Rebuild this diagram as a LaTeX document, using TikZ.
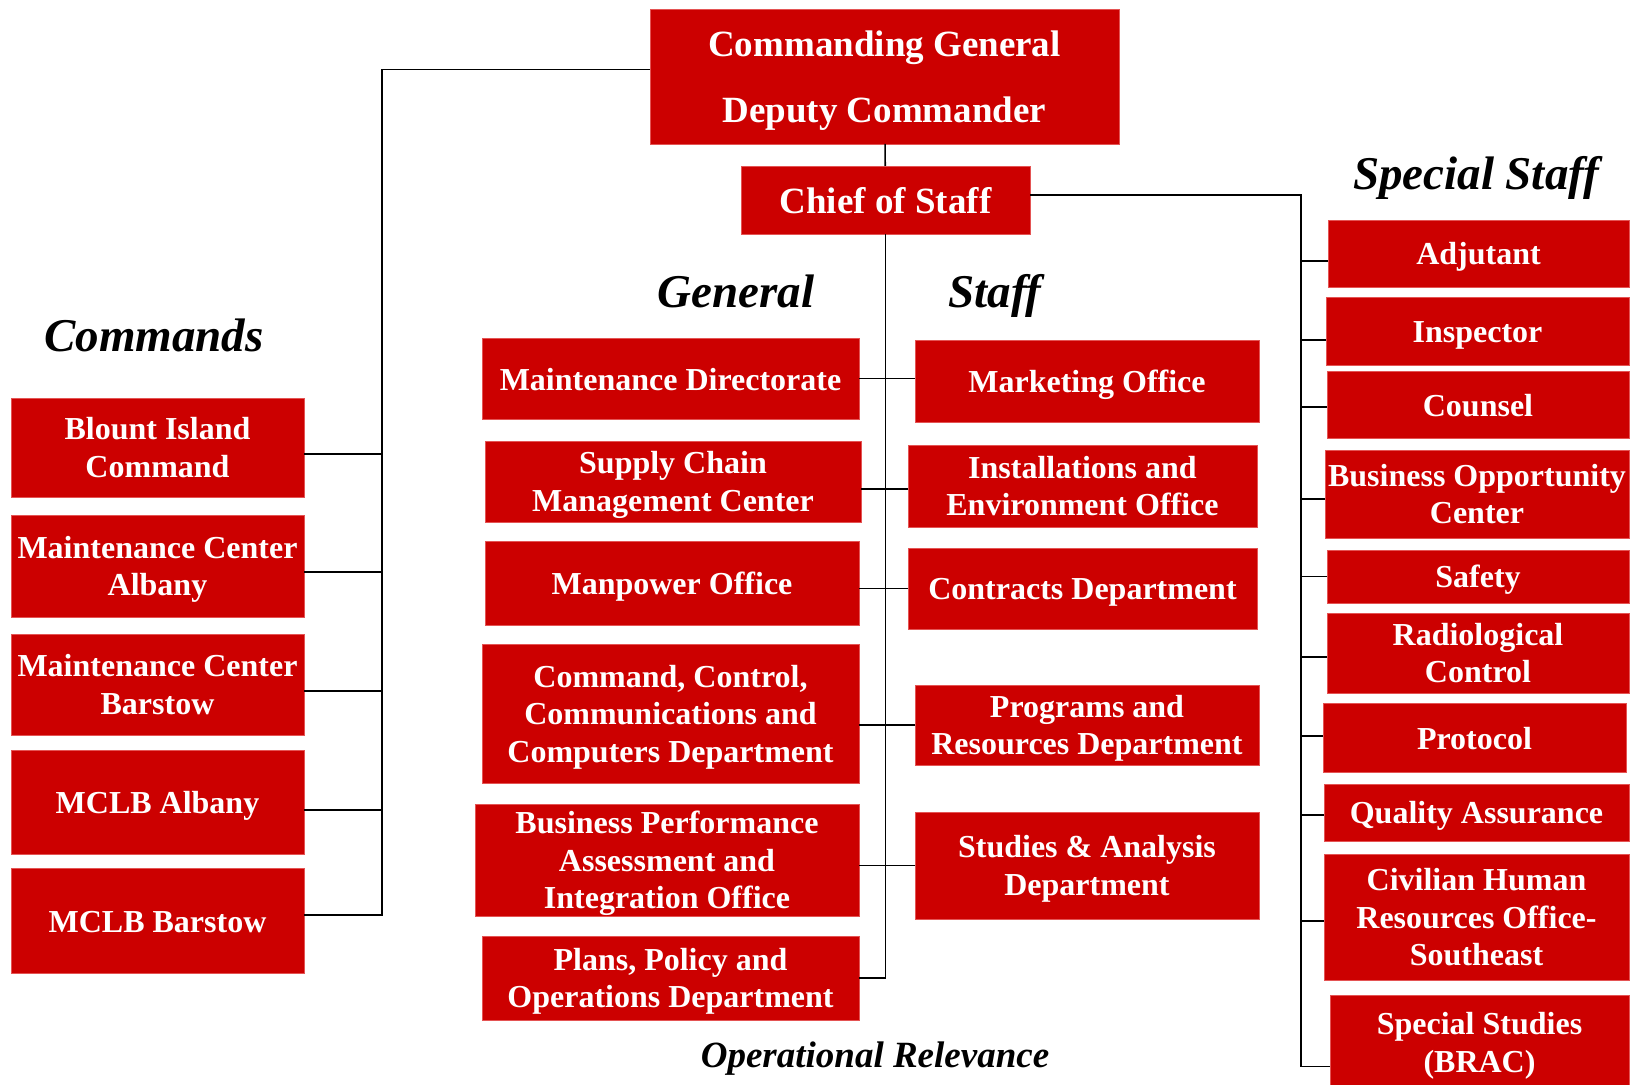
\documentclass[tikz,border=0pt]{standalone}
\usepackage{fontspec}
\setmainfont{Liberation Serif}
\usepackage{tikz}
\definecolor{UnitRed}{RGB}{204,0,0}
\definecolor{UnitEdge}{RGB}{228,84,84}

\begin{document}
\begin{tikzpicture}[x=0.5pt,y=-0.5pt]
  \tikzset{UnitStyle/.style = {
    shape         = rectangle,
    draw          = UnitEdge,
    fill          = UnitRed,
    line width    = 0.4pt,
    text          = white,
    align         = center,
    inner sep     = 0pt,
    outer sep     = 0pt,
    font          = \bfseries\fontsize{16}{18.75}\selectfont,
    execute at begin node = {\rule{0pt}{0.93em}},
    execute at end node   = {\rule[-0.2em]{0pt}{0pt}}
    }
  }
  \tikzset{MultiStyle/.style = {
    UnitStyle,
    text depth    = 0pt
    }
  }
  \tikzset{TopStyle/.style = {
    UnitStyle,
    font          = \bfseries\fontsize{18.5}{33}\selectfont
    }
  }
  \tikzset{LinkStyle/.style = {
    draw          = black,
    line width    = 0.8pt
    }
  }
  \tikzset{HeadStyle/.style = {
    anchor        = base,
    text          = black,
    inner sep     = 0pt,
    font          = \bfseries\itshape\fontsize{23.5}{28}\selectfont
    }
  }
  \useasboundingbox (0,0) rectangle (1634,1085);

	% top of the chain
	\node[TopStyle, text depth=0pt, minimum width=234.5pt, minimum height=67.5pt](cg) at (884.5, 76.5) {Commanding General\\Deputy Commander};
	\node[TopStyle, minimum width=144.5pt, minimum height=34pt](cos) at (885.5, 200) {Chief of Staff};

	% commands
	\node[MultiStyle, minimum width=146.5pt, minimum height=49.5pt](bic) at (157.5, 447.5) {Blount Island\\Command};
	\node[MultiStyle, minimum width=146.5pt, minimum height=51pt](mca) at (157.5, 566) {Maintenance Center\\Albany};
	\node[MultiStyle, minimum width=146.5pt, minimum height=50.5pt](mcb) at (157.5, 684.5) {Maintenance Center\\Barstow};
	\node[UnitStyle, minimum width=146.5pt, minimum height=52pt](mclba) at (157.5, 802) {MCLB Albany};
	\node[UnitStyle, minimum width=146.5pt, minimum height=52.5pt](mclbb) at (157.5, 920.5) {MCLB Barstow};

	% general staff
	\node[UnitStyle, minimum width=188.5pt, minimum height=40.5pt](md) at (670.5, 378.5) {Maintenance Directorate};
	\node[MultiStyle, minimum width=188pt, minimum height=40.5pt](scmc) at (673, 481.5) {Supply Chain\\Management Center};
	\node[UnitStyle, minimum width=187pt, minimum height=42pt](mpo) at (672, 583) {Manpower Office};
	\node[MultiStyle, minimum width=188.5pt, minimum height=69.5pt](cfour) at (670.5, 713.5) {Command, Control,\\Communications and\\Computers Department};
	\node[MultiStyle, minimum width=192pt, minimum height=56pt](bpa) at (667, 860) {Business Performance\\Assessment and\\Integration Office};
	\node[MultiStyle, minimum width=188.5pt, minimum height=42pt](ppo) at (670.5, 978) {Plans, Policy and\\Operations Department};
	\node[UnitStyle, minimum width=172pt, minimum height=41pt](mo) at (1087, 381) {Marketing Office};
	\node[MultiStyle, minimum width=174.5pt, minimum height=41pt](ieo) at (1082.5, 486) {Installations and\\Environment Office};
	\node[UnitStyle, minimum width=174.5pt, minimum height=40.5pt](cd) at (1082.5, 588.5) {Contracts Department};
	\node[MultiStyle, minimum width=172pt, minimum height=40pt](prd) at (1087, 725) {Programs and\\Resources Department};
	\node[MultiStyle, minimum width=172pt, minimum height=53.5pt](sad) at (1087, 865.5) {Studies \& Analysis\\Department};

	% special staff
	\node[UnitStyle, minimum width=150.5pt, minimum height=33.5pt](adj) at (1478.5, 253.5) {Adjutant};
	\node[UnitStyle, minimum width=151.5pt, minimum height=34pt](ins) at (1477.5, 331) {Inspector};
	\node[UnitStyle, minimum width=151pt, minimum height=33.5pt](cou) at (1478, 404.5) {Counsel};
	\node[MultiStyle, minimum width=152pt, minimum height=44pt](boc) at (1477, 494) {Business Opportunity\\Center};
	\node[UnitStyle, minimum width=151pt, minimum height=26.5pt](saf) at (1478, 576.5) {Safety};
	\node[MultiStyle, minimum width=151pt, minimum height=40pt](rad) at (1478, 653) {Radiological\\Control};
	\node[UnitStyle, minimum width=151.5pt, minimum height=34.5pt](pro) at (1474.5, 737.5) {Protocol};
	\node[UnitStyle, minimum width=152.5pt, minimum height=28.5pt](qa) at (1476.5, 812.5) {Quality Assurance};
	\node[MultiStyle, minimum width=152.5pt, minimum height=63pt](chr) at (1476.5, 917) {Civilian Human\\Resources Office-\\Southeast};
	\node[MultiStyle, minimum width=149.5pt, minimum height=47.5pt](sst) at (1479.5, 1042.5) {Special Studies\\(BRAC)};

	% headings
	\node[HeadStyle](hcmd) at (154, 352) {Commands};
	\node[HeadStyle](hgen) at (736, 308) {General};
	\node[HeadStyle](hstf) at (995, 308) {Staff};
	\node[HeadStyle](hspc) at (1476, 190) {Special Staff};
	\node[HeadStyle, font=\bfseries\itshape\fontsize{18.5}{22}\selectfont](hops) at (875, 1067) {Operational Relevance};

	% buses
	\coordinate (cmdbus) at (382, 69);
	\coordinate (ssbus) at (1301, 195);

	\draw[LinkStyle](cg) -- (cos);
	\draw[LinkStyle]([yshift=3.5pt]cg.west) -| ([yshift=2.75pt]mclbb.east -| cmdbus) -- ([yshift=2.75pt]mclbb.east);
	\foreach \u/\d in {bic/-3.25pt, mca/-3pt, mcb/-3.25pt, mclba/-4pt}
		\draw[LinkStyle]([yshift=\d]\u.east) -- ([yshift=\d]\u.east -| cmdbus);

	\draw[LinkStyle](cos.south) |- (ppo.east);
	\draw[LinkStyle](md.east) -- (md.east -| mo.west);
	\draw[LinkStyle]([yshift=-1.5pt]ieo.west) -- ([yshift=-1.5pt]ieo.west -| scmc.east);
	\draw[LinkStyle](cd.west) -- (cd.west -| mpo.east);
	\draw[LinkStyle](prd.west) -- (prd.west -| cfour.east);
	\draw[LinkStyle](sad.west) -- (sad.west -| bpa.east);

	\draw[LinkStyle](cos.east |- ssbus) -| ([yshift=-12pt]sst.west -| ssbus) -- ([yshift=-12pt]sst.west);
	\foreach \u/\d in {adj/-3.75pt, ins/-4.5pt, cou/-1.25pt, boc/-2.5pt, saf/0pt, rad/-2pt, pro/0.75pt, qa/-1.25pt, chr/-2pt}
		\draw[LinkStyle]([yshift=\d]\u.west) -- ([yshift=\d]\u.west -| ssbus);

\end{tikzpicture}
\end{document}
